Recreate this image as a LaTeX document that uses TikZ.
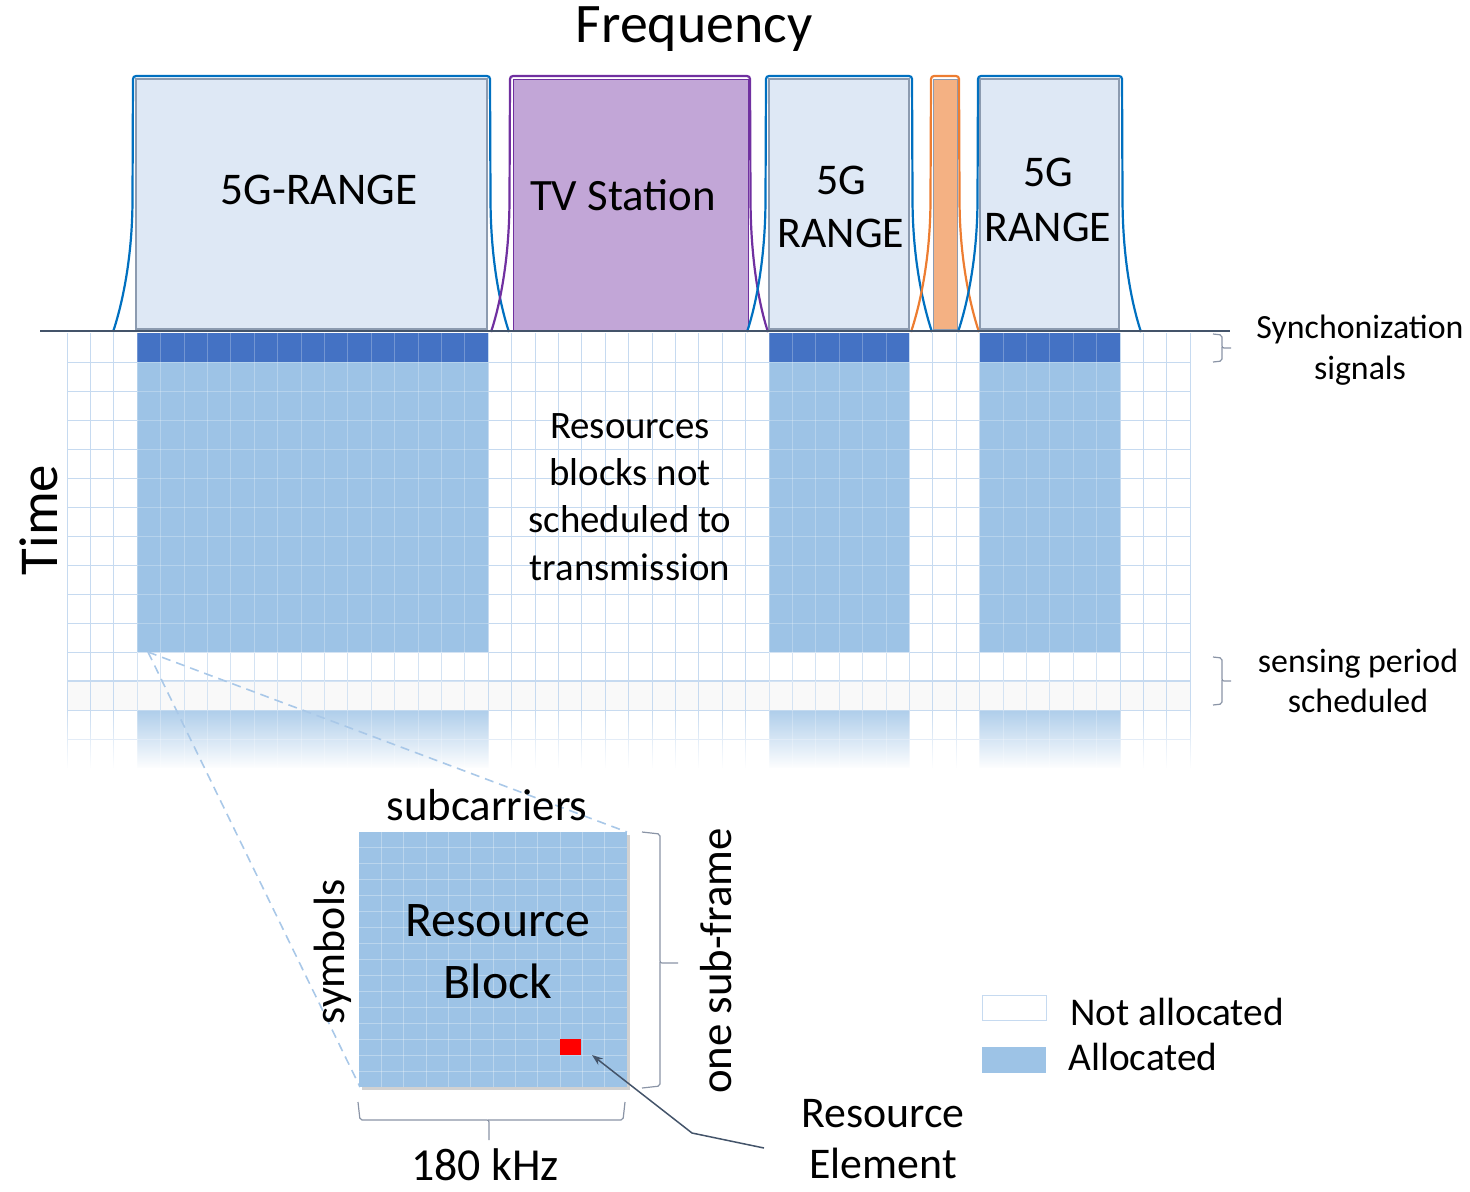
\documentclass[tikz,border=0pt]{standalone}
\usepackage{fontspec}
\setmainfont{Carlito}
\usetikzlibrary{arrows.meta,fadings}
\definecolor{gridline}{HTML}{C6DAF0}
\definecolor{syncblue}{HTML}{4472C4}
\definecolor{allocblue}{HTML}{9DC3E6}
\definecolor{specfill}{HTML}{DEE8F5}
\definecolor{specedge}{HTML}{8C9BB0}
\definecolor{tvfill}{HTML}{C2A6D7}
\definecolor{tvline}{HTML}{7030A0}
\definecolor{orfill}{HTML}{F4B183}
\definecolor{orline}{HTML}{ED7D31}
\definecolor{bluecurve}{HTML}{0070C0}
\definecolor{axiscol}{HTML}{44546A}
\definecolor{rowgray}{HTML}{F9F9F9}
\definecolor{bracecol}{HTML}{8A94A6}
\definecolor{dashcol}{HTML}{A9C8E8}
\tikzfading[name=fadedown, top color=transparent!100, bottom color=transparent!0]
\newcommand\specshape[5]{%
  \draw[#1, line width=2.2bp, rounded corners=3bp] (#2,332) .. controls (#2+9,305) and (#3-1,260) .. (#3-0.5,200) -- (#3,76) -- (#4,76) -- (#4+0.5,200) .. controls (#4+1,260) and (#5-9,305) .. (#5,332);}
\tikzset{
  lbl/.style={inner sep=0pt, align=center, text=black},
  inner/.style={draw=specedge, line width=1.2bp, fill=specfill},
  bracestyle/.style={draw=bracecol, line width=1.2bp, rounded corners=2bp},
}
\begin{document}
\begin{tikzpicture}[x=1bp,y=-1bp]
\useasboundingbox (0,0) rectangle (1470,1191);
% ---------------- grid ----------------
\fill[rowgray] (67,681) rectangle (1190,710);
\foreach \k in {0,...,48} \draw[gridline, line width=1bp] (67+\k*23.4,333) -- (67+\k*23.4,770);
\foreach \k in {1,...,15} \draw[gridline, line width=1bp] (67,333+\k*29) -- (1190,333+\k*29);
\draw[gridline, line width=2bp] (67,681) -- (1190,681);
\foreach \a/\b in {137.2/488.2, 769/909.4, 979.6/1120}{
  \fill[syncblue] (\a,333) rectangle (\b,362);
  \fill[allocblue] (\a,362) rectangle (\b,652);
  \fill[allocblue!85] (\a,710) rectangle (\b,770);
  \begin{scope}
    \clip (\a,333) rectangle (\b,770);
    \foreach \k in {0,...,48} \draw[white, opacity=0.25, line width=1bp] (67+\k*23.4,333) -- (67+\k*23.4,770);
    \foreach \k in {1,...,15} \draw[white, opacity=0.25, line width=1bp] (67,333+\k*29) -- (1190,333+\k*29);
  \end{scope}
}
\fill[white, path fading=fadedown] (55,708) rectangle (1200,769);
\fill[white] (55,768) rectangle (1200,775);
% ---------------- spectrum ----------------
\draw[inner] (136,79) rectangle (487,329);
\fill[tvfill, draw=tvline, line width=1bp] (513,79) rectangle (748,330);
\draw[inner] (769,79) rectangle (909,329);
\fill[orfill, draw=specedge, line width=1bp] (933,79) rectangle (957,329);
\draw[inner] (980,79) rectangle (1119,329);
\specshape{bluecurve}{113}{133}{490}{509}
\specshape{tvline}{491}{510}{750}{768}
\specshape{bluecurve}{747}{766}{912}{932}
\specshape{orline}{911}{931}{959}{979}
\specshape{bluecurve}{958}{978}{1122}{1141}
\draw[axiscol, line width=2.4bp] (40,331) -- (1230,331);
% ---------------- labels ----------------
\node[lbl, font=\fontsize{56}{60}\selectfont] (freq) at (694,29) {Frequency};
\node[lbl, font=\fontsize{45.5}{54}\selectfont] (r1) at (319,190) {5G-RANGE};
\node[lbl, font=\fontsize{45}{54}\selectfont] (tv) at (623,195) {TV Station};
\node[lbl, font=\fontsize{44}{54}\selectfont] (r2) at (841,207) {5G\\RANGE};
\node[lbl, font=\fontsize{44}{55}\selectfont] (r3) at (1048,200) {5G\\RANGE};
\node[lbl, font=\fontsize{55}{60}\selectfont, rotate=90] (time) at (39,520) {Time};
\node[lbl, font=\fontsize{39}{47.5}\selectfont] (notsched) at (630,497) {Resources\\blocks not\\scheduled to\\transmission};
\node[lbl, font=\fontsize{34}{41}\selectfont] (sync) at (1360,350) {Synchonization\\signals};
\node[lbl, font=\fontsize{34}{40}\selectfont] (sens) at (1358,681) {sensing period\\scheduled};
% braces
\draw[bracestyle] (1213,334) -- (1222,335) -- (1222,348) -- (1231,348);
\draw[bracestyle] (1222,347) -- (1222,361) -- (1213,362);
\draw[bracestyle] (1213,657) -- (1222,658) -- (1222,681) -- (1231,681);
\draw[bracestyle] (1222,680) -- (1222,704) -- (1213,705);
% ---------------- zoomed resource block ----------------
\coordinate (corner) at (148,652);
\coordinate (rbBL) at (360,1087);
\coordinate (rbTR) at (627,832);
\draw[dashcol, line width=1.6bp, dash pattern=on 9bp off 6bp] (corner) -- (rbBL);
\draw[dashcol, line width=1.6bp, dash pattern=on 9bp off 6bp] (corner) -- (rbTR);
\fill[black, opacity=0.18] (362,835) rectangle (630,1090);
\fill[allocblue] (359,832) rectangle (627,1087);
\begin{scope}
  \clip (359,832) rectangle (627,1087);
  \foreach \k in {1,...,11} \draw[white, opacity=0.3, line width=1bp] (359+\k*22.333,832) -- (359+\k*22.333,1087);
  \foreach \k in {1,...,15} \draw[white, opacity=0.3, line width=1bp] (359,832+\k*15.94) -- (627,832+\k*15.94);
\end{scope}
\node[fill=red, inner sep=0pt, minimum width=21.5bp, minimum height=15.5bp] (re) at (570.7,1047.2) {};
\node[lbl, font=\fontsize{50}{62}\selectfont] (rb) at (498,952) {Resource\\Block};
\node[lbl, font=\fontsize{45}{50}\selectfont] (subc) at (487,805) {subcarriers};
\node[lbl, font=\fontsize{44}{50}\selectfont, rotate=90] (symb) at (333,952) {symbols};
\node[lbl, font=\fontsize{45}{50}\selectfont, rotate=90] (subf) at (716,961) {one sub-frame};
\node[lbl, font=\fontsize{46}{50}\selectfont] (khz) at (485,1165) {180 kHz};
\node[lbl, font=\fontsize{44}{52}\selectfont] (reel) at (883,1139) {Resource\\Element};
\draw[bracestyle] (642,832) -- (660,834) -- (660,963) -- (678,963);
\draw[bracestyle] (660,962) -- (660,1086) -- (642,1088);
\draw[bracestyle] (358,1102) -- (360,1120) -- (489,1120) -- (489,1140);
\draw[bracestyle] (488,1120) -- (623,1120) -- (625,1102);
\coordinate (reTail) at (764,1148);
\coordinate (reBend) at (692,1133);
\coordinate (reTip) at (592,1055);
\draw[axiscol, line width=1.5bp, -{Stealth[length=11bp, width=8bp]}] (reTail) -- (reBend) -- (reTip);
% ---------------- legend ----------------
\node[draw=gridline, line width=1bp, fill=white, minimum width=64bp, minimum height=25bp, inner sep=0pt] (legN) at (1014,1007.5) {};
\node[fill=allocblue, minimum width=64bp, minimum height=26bp, inner sep=0pt] (legA) at (1014,1060) {};
\node[lbl, anchor=west, font=\fontsize{39.5}{45}\selectfont] (legNt) at (1070,1012) {Not allocated};
\node[lbl, anchor=west, font=\fontsize{39.5}{45}\selectfont] (legAt) at (1068,1057) {Allocated};
\end{tikzpicture}
\end{document}
